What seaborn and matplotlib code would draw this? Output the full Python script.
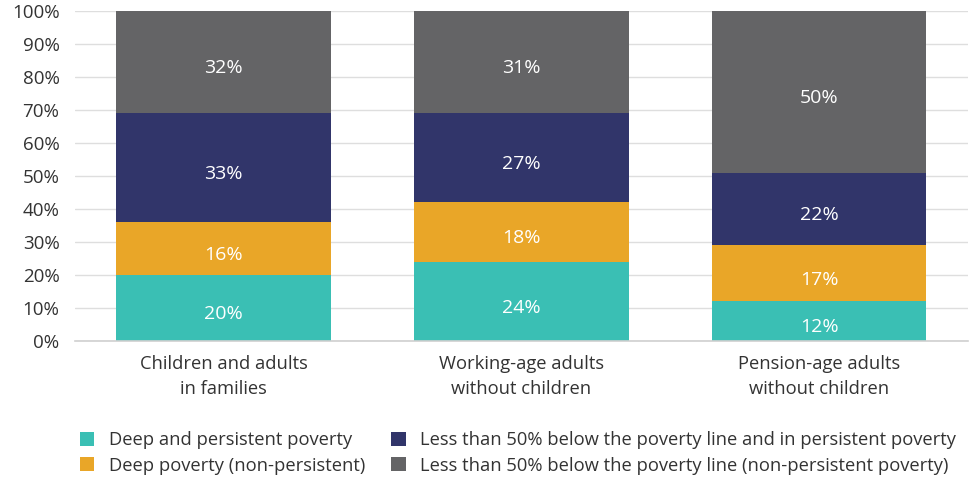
import matplotlib
matplotlib.use("Agg")
import matplotlib.pyplot as plt
import seaborn as sns
import pandas as pd
import numpy as np
from matplotlib.patches import Patch

categories = ["Children and adults\nin families", "Working-age adults\nwithout children", "Pension-age adults\nwithout children"]
series_names = [
    "Deep and persistent poverty",
    "Deep poverty (non-persistent)",
    "Less than 50% below the poverty line and in persistent poverty",
    "Less than 50% below the poverty line (non-persistent poverty)",
]
deep_persistent = [20, 24, 12]
deep_nonpersistent = [16, 18, 17]
less50_persistent = [33, 27, 22]
less50_nonpersistent = [32, 31, 50]
colors = ["#3abfb4", "#e9a628", "#31356a", "#646466"]
yticks = [0, 10, 20, 30, 40, 50, 60, 70, 80, 90, 100]

sns.set_theme(style="white")
plt.rcParams["font.family"] = ["Open Sans", "DejaVu Sans"]

layers = [deep_persistent, deep_nonpersistent, less50_persistent, less50_nonpersistent]
cum = np.cumsum(np.array(layers, dtype=float), axis=0)

fig = plt.figure(figsize=(9.71, 4.79), dpi=100)
ax = fig.add_axes([0.077, 0.288, 0.92, 0.689])

for i in range(3, -1, -1):
    df = pd.DataFrame({"cat": categories, "val": cum[i]})
    sns.barplot(data=df, x="cat", y="val", color=colors[i], saturation=1,
                width=0.72, ax=ax, zorder=2, linewidth=0)

for i in range(4):
    for j in range(3):
        lo = cum[i - 1][j] if i > 0 else 0
        hi = min(cum[i][j], 100)
        ax.annotate(f"{layers[i][j]}%", xy=(j, (lo + hi) / 2), xytext=(0, -3),
                    textcoords="offset points", ha="center", va="center_baseline",
                    color="white", fontsize=14, zorder=3)

ax.set_ylim(0, 100)
ax.set_xlim(-0.5, 2.5)
ax.set_yticks(yticks)
ax.set_yticklabels([f"{t}%" for t in yticks])
ax.set_xlabel("")
ax.set_ylabel("")
ax.grid(axis="y", color="#dedede", linewidth=1, zorder=0)
ax.set_axisbelow(True)
for s in ["top", "right", "left"]:
    ax.spines[s].set_visible(False)
ax.spines["bottom"].set_color("#d0d0d0")
ax.spines["bottom"].set_linewidth(1.2)
ax.tick_params(axis="y", length=0, pad=11, labelsize=13.5, labelcolor="#333333")
ax.tick_params(axis="x", length=0, pad=10, labelsize=13.2, labelcolor="#333333")
for lab in ax.get_xticklabels():
    lab.set_linespacing(1.5)

handles = [Patch(facecolor=c, edgecolor="none") for c in colors]
fig.legend(handles, series_names,
           loc="upper left", bbox_to_anchor=(0.082, 0.100), ncol=2, frameon=False,
           fontsize=13.2, handlelength=0.8, handleheight=0.8, handletextpad=0.8,
           columnspacing=1.4, labelspacing=0.42, borderpad=0, borderaxespad=0,
           labelcolor="#333333")

fig.savefig("out.png", dpi=100)
